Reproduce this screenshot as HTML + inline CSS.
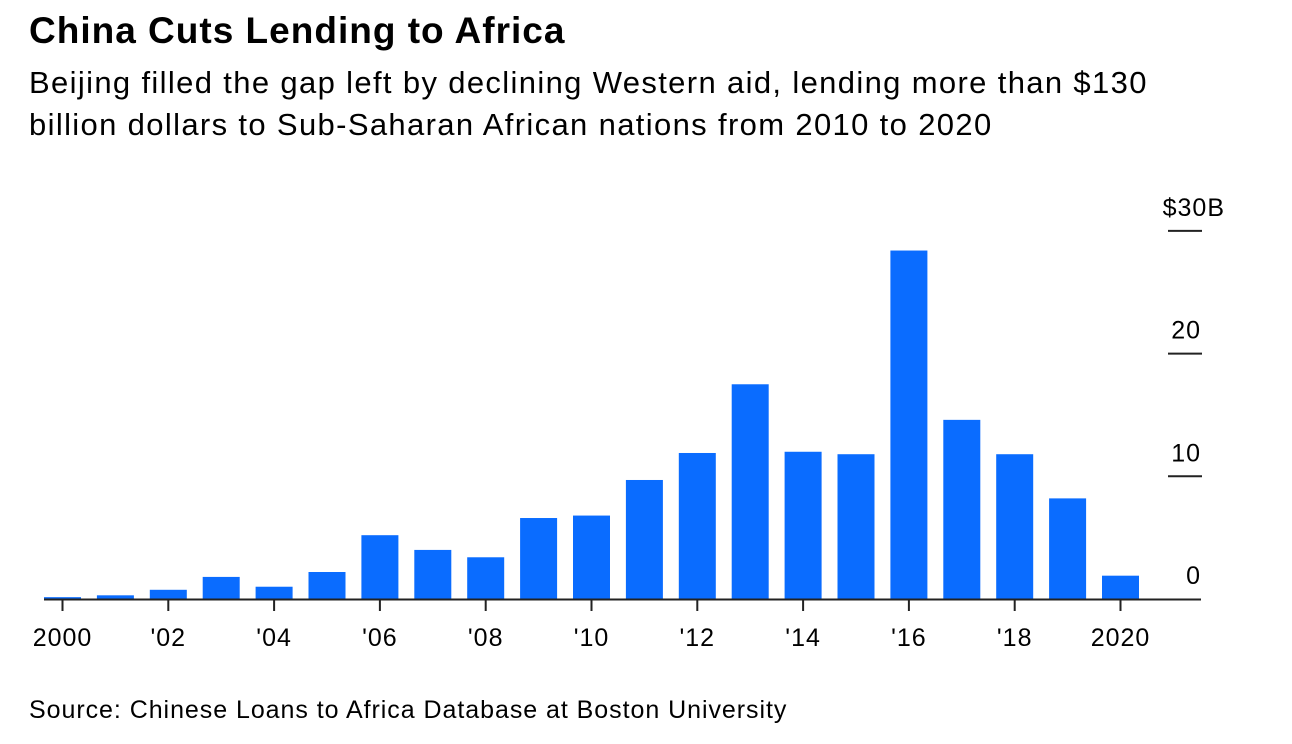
<!DOCTYPE html>
<html><head><meta charset="utf-8"><style>
body{margin:0;background:#fff;width:1292px;height:744px;overflow:hidden;font-family:"Liberation Sans",sans-serif;color:#000}
#title{position:absolute;left:29px;top:10px;font-size:37px;font-weight:bold;letter-spacing:1px;white-space:nowrap}
#sub{position:absolute;left:29px;top:62px;font-size:31px;line-height:42px;letter-spacing:1.35px;white-space:nowrap}
#src{position:absolute;left:29px;top:696px;font-size:25px;letter-spacing:0.95px;white-space:nowrap}
svg{position:absolute;left:0;top:0}
</style></head><body>
<div id="title">China Cuts Lending to Africa</div>
<div id="sub">Beijing filled the gap left by declining Western aid, lending more than $130<br>billion dollars to Sub-Saharan African nations from 2010 to 2020</div>
<div id="src">Source: Chinese Loans to Africa Database at Boston University</div>
<svg id="chart" width="1292" height="744"></svg>
<script>
const years=[2000,2001,2002,2003,2004,2005,2006,2007,2008,2009,2010,2011,2012,2013,2014,2015,2016,2017,2018,2019,2020];
const values=[0.15,0.3,0.75,1.8,1.0,2.2,5.2,4.0,3.4,6.6,6.8,9.7,11.9,17.5,12.0,11.8,28.4,14.6,11.8,8.2,1.9];
const yTicks=[0,10,20,30];
const yTickLabels=["0","10","20","$30B"];
const xTickYears=[2000,2002,2004,2006,2008,2010,2012,2014,2016,2018,2020];
const xTickLabels=["2000","'02","'04","'06","'08","'10","'12","'14","'16","'18","2020"];
const NS="http://www.w3.org/2000/svg";
const svg=document.getElementById('chart');
const x=y=>62.5+(y-2000)*52.9;
const yv=v=>599-v*12.27;
function mk(t,a){const e=document.createElementNS(NS,t);for(const k in a)e.setAttribute(k,a[k]);svg.appendChild(e);return e;}
years.forEach((yr,i)=>{
 const r=mk('rect',{x:x(yr)-18.5,y:yv(values[i]),width:37,height:599-yv(values[i]),fill:'#0a6cff'});
 
 
});
const base=mk('line',{x1:44,x2:1201,y1:599.5,y2:599.5,stroke:'#222','stroke-width':2});


xTickYears.forEach((yr,i)=>{
 const t=mk('line',{x1:x(yr),x2:x(yr),y1:600,y2:611,stroke:'#222','stroke-width':2});
 
 
 const l=mk('text',{x:x(yr),y:646,'text-anchor':'middle','font-size':25,'letter-spacing':1,'font-family':'Liberation Sans, sans-serif'});
 l.textContent=xTickLabels[i];
 
 
});
yTicks.forEach((v,i)=>{
 if(v>0){const g=mk('line',{x1:1168,x2:1202,y1:yv(v),y2:yv(v),stroke:'#222','stroke-width':2});
 
 }
 const l=mk('text',{x:v===30?1225:1201,y:yv(v)-15,'text-anchor':'end','font-size':25,'letter-spacing':1,'font-family':'Liberation Sans, sans-serif'});
 l.textContent=yTickLabels[i];
 
 
});
</script>
</body></html>
